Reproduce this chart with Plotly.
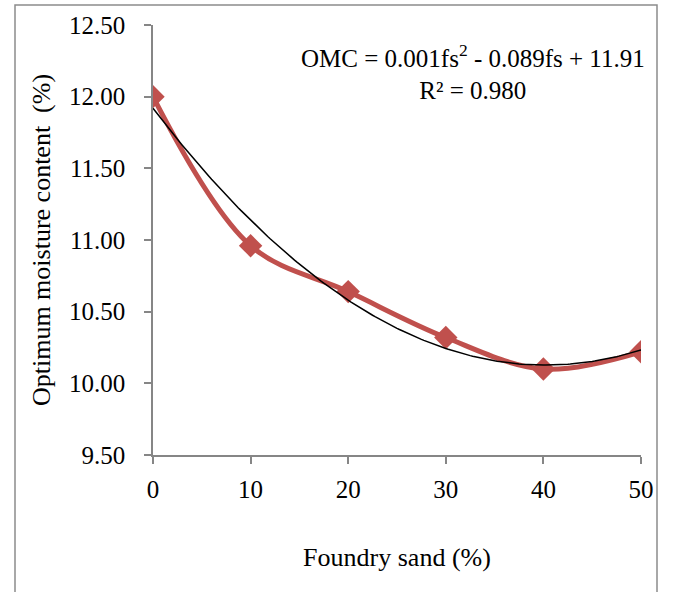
import numpy as np
import plotly.graph_objects as go

foundry_sand = [0, 10, 20, 30, 40, 50]
omc = [12.00, 10.96, 10.64, 10.32, 10.10, 10.22]
x_ticks = [0, 10, 20, 30, 40, 50]
y_ticks = [9.5, 10.0, 10.5, 11.0, 11.5, 12.0, 12.5]

coef = np.polyfit(foundry_sand, omc, 2)
xf = np.linspace(0, 50, 201)
yf = np.polyval(coef, xf)

FONT = "Liberation Serif, Times New Roman, serif"
W, H = 673, 592
L, R, T, B = 153, 32, 25, 137

fig = go.Figure()
fig.add_trace(go.Scatter(x=foundry_sand, y=omc, mode="lines+markers",
                         line=dict(color="#C0504D", width=5, shape="spline", smoothing=1),
                         marker=dict(symbol="diamond", size=18, color="#C0504D"),
                         showlegend=False))
fig.add_trace(go.Scatter(x=xf, y=yf, mode="lines",
                         line=dict(color="black", width=1.5), showlegend=False))

pw = W - L - R
ph = H - T - B
def px(xp): return (xp - L) / pw
def py(yp): return (H - B - yp) / ph

fig.add_shape(type="rect", xref="paper", yref="paper",
              x0=px(15), x1=px(657), y0=py(600), y1=py(5),
              line=dict(color="#8c8c8c", width=1.5), fillcolor="rgba(0,0,0,0)", layer="below")

fig.add_annotation(xref="paper", yref="paper", x=px(473), y=py(72),
                   text="OMC = 0.001fs<sup>2</sup> - 0.089fs + 11.91<br>R² = 0.980",
                   showarrow=False, align="center", xanchor="center", yanchor="middle",
                   font=dict(family=FONT, size=25, color="black"))

fig.update_layout(
    width=W, height=H, margin=dict(l=L, r=R, t=T, b=B),
    paper_bgcolor="white", plot_bgcolor="white",
    font=dict(family=FONT, size=25, color="black"),
    xaxis=dict(range=[0, 50], tickvals=x_ticks, ticktext=[str(v) for v in x_ticks],
               showgrid=False, zeroline=False, showline=True, linecolor="#868686", linewidth=1.5,
               ticks="outside", ticklen=7, tickcolor="#868686", tickwidth=1.5,
               ticklabelstandoff=4,
               tickfont=dict(family=FONT, size=25),
               title=dict(text="Foundry sand (%)", font=dict(family=FONT, size=26), standoff=46)),
    yaxis=dict(range=[9.5, 12.5], tickvals=y_ticks, ticktext=[f"{v:.2f}" for v in y_ticks],
               showgrid=False, zeroline=False, showline=True, linecolor="#868686", linewidth=1.5,
               ticks="outside", ticklen=7, tickcolor="#868686", tickwidth=1.5,
               ticklabelstandoff=14,
               tickfont=dict(family=FONT, size=25),
               title=dict(text="Optimum moisture content  (%)", font=dict(family=FONT, size=26), standoff=11)),
)

fig.write_html("out.html", config={"displayModeBar": False},
               post_script="document.body.style.margin='0';")
